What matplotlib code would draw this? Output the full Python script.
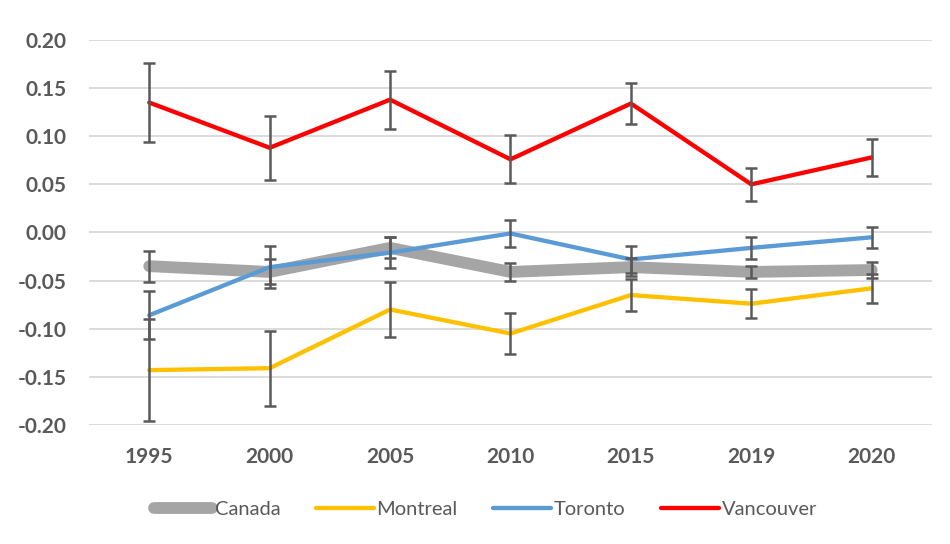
import matplotlib.pyplot as plt

# -------------------------------------------------
# DATA
# -------------------------------------------------
years = ["1995", "2000", "2005", "2010", "2015", "2019", "2020"]

canada = [-0.035, -0.041, -0.016, -0.041, -0.036, -0.041, -0.039]
canada_err = [0.016, 0.013, 0.011, 0.009, 0.009, 0.006, 0.008]

montreal = [-0.143, -0.141, -0.080, -0.105, -0.065, -0.074, -0.058]
montreal_err = [0.053, 0.039, 0.029, 0.021, 0.017, 0.015, 0.015]

toronto = [-0.086, -0.036, -0.021, -0.001, -0.028, -0.016, -0.005]
toronto_err = [0.025, 0.022, 0.016, 0.014, 0.014, 0.0115, 0.011]

vancouver = [0.135, 0.088, 0.138, 0.076, 0.134, 0.050, 0.078]
vancouver_err = [0.041, 0.033, 0.030, 0.025, 0.021, 0.017, 0.019]

yticks = [0.20, 0.15, 0.10, 0.05, 0.00, -0.05, -0.10, -0.15, -0.20]

# -------------------------------------------------
# STYLE
# -------------------------------------------------
plt.rcParams["font.family"] = ["Lato", "DejaVu Sans"]
TEXT = "#595959"
GRID = "#d9d9d9"
ERR = "#595959"

series = [
    ("Canada", canada, canada_err, "#a5a5a5", 8.5),
    ("Montreal", montreal, montreal_err, "#ffc000", 3.1),
    ("Toronto", toronto, toronto_err, "#5b9bd5", 3.1),
    ("Vancouver", vancouver, vancouver_err, "#ff0000", 3.1),
]

fig = plt.figure(figsize=(9.5, 5.44), dpi=100)
ax = fig.add_axes([0.0937, 0.2188, 0.8873, 0.7077])

x = list(range(len(years)))
handles = []
for i, (name, vals, err, color, lw) in enumerate(series):
    (ln,) = ax.plot(x, vals, color=color, lw=lw, solid_capstyle="round",
                    solid_joinstyle="round", zorder=3 + i, label=name)
    handles.append(ln)
    ax.errorbar(x, vals, yerr=err, fmt="none", ecolor=ERR, elinewidth=1.8,
                capsize=4, capthick=1.8, zorder=10)

ax.set_xlim(-0.5, len(years) - 0.5)
ax.set_ylim(-0.2, 0.2)
ax.set_yticks(yticks)
ax.set_yticklabels([f"{v:.2f}" for v in yticks])
ax.set_xticks(x)
ax.set_xticklabels(years)
ax.grid(axis="y", color=GRID, lw=1.3, zorder=0)
ax.set_axisbelow(True)
for s in ax.spines.values():
    s.set_visible(False)
ax.tick_params(length=0, labelsize=15, labelcolor=TEXT)
ax.tick_params(axis="y", pad=16)
ax.tick_params(axis="x", pad=16)
for lab in ax.get_xticklabels() + ax.get_yticklabels():
    lab.set_fontweight("bold")

fig.legend(handles=handles, loc="center", bbox_to_anchor=(0.511, 0.064),
           ncol=4, frameon=False, fontsize=14.5, labelcolor=TEXT,
           handlelength=2.9, handletextpad=0.12, columnspacing=1.75)

fig.savefig("out.png", dpi=100)
